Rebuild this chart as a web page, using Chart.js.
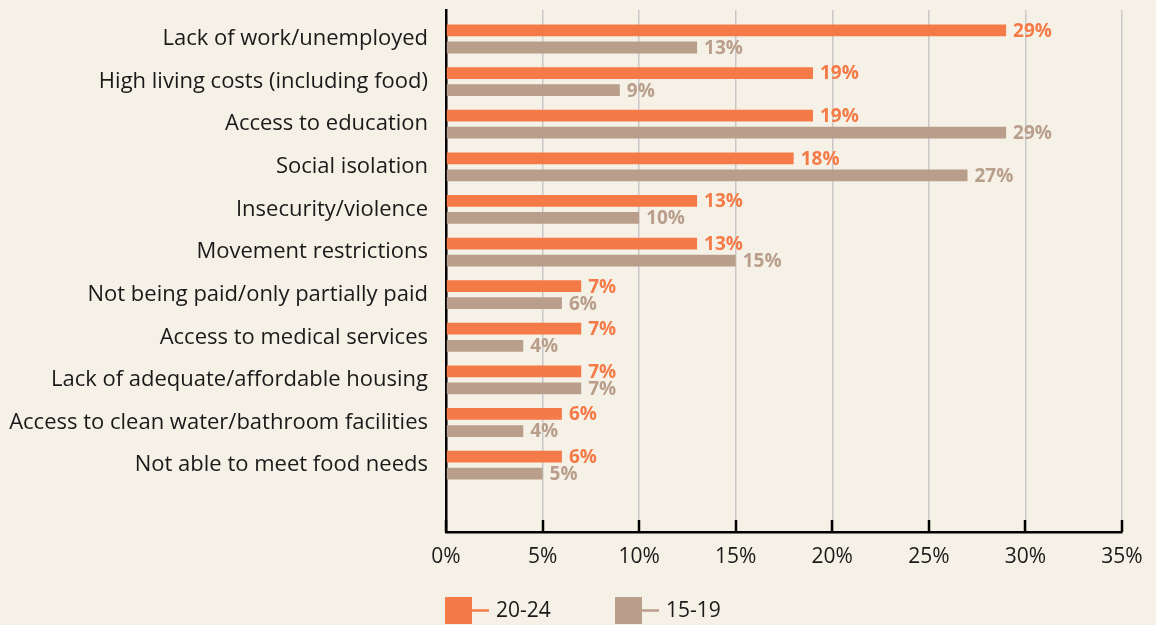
<!DOCTYPE html>
<html>
<head>
<meta charset="utf-8">
<script src="https://cdn.jsdelivr.net/npm/chart.js@4.4.1/dist/chart.umd.min.js"></script>
<style>
  html, body { margin: 0; padding: 0; background: #F6F1E6; }
  #wrap { width: 1156px; height: 625px; }
</style>
</head>
<body>
<div id="wrap"><canvas id="c" width="1156" height="625"></canvas></div>
<script>
const categories = [
  "Lack of work/unemployed",
  "High living costs (including food)",
  "Access to education",
  "Social isolation",
  "Insecurity/violence",
  "Movement restrictions",
  "Not being paid/only partially paid",
  "Access to medical services",
  "Lack of adequate/affordable housing",
  "Access to clean water/bathroom facilities",
  "Not able to meet food needs"
];
const seriesNames = ["20-24", "15-19"];
const values2024 = [29, 19, 19, 18, 13, 13, 7, 7, 7, 6, 6];
const values1519 = [13, 9, 29, 27, 10, 15, 6, 4, 7, 4, 5];
const xTicks = [0, 5, 10, 15, 20, 25, 30, 35];

const ORANGE = "#F47A48";
const TAUPE = "#B89E8B";
const FONT = "'Open Sans', 'Noto Sans', sans-serif";

const bgPlugin = {
  id: "bg",
  beforeDraw(chart) {
    const ctx = chart.ctx;
    ctx.save();
    ctx.fillStyle = "#F6F1E6";
    ctx.fillRect(0, 0, chart.width, chart.height);
    ctx.restore();
  }
};

const decoPlugin = {
  id: "deco",
  afterDatasetsDraw(chart) {
    const ctx = chart.ctx;
    chart.data.datasets.forEach((ds, di) => {
      const meta = chart.getDatasetMeta(di);
      meta.data.forEach((bar, i) => {
        ctx.save();
        ctx.font = "bold 19px " + FONT;
        ctx.fillStyle = ds.backgroundColor;
        ctx.textAlign = "left";
        ctx.textBaseline = "middle";
        ctx.fillText(ds.data[i].x + "%", bar.x + 7, bar.y + 1);
        ctx.restore();
      });
    });
  },
  afterDraw(chart) {
    const ctx = chart.ctx;
    const xs = chart.scales.x;
    const area = chart.chartArea;
    ctx.save();
    ctx.strokeStyle = "#000";
    ctx.lineWidth = 2.5;
    xTicks.forEach(v => {
      const px = Math.round(xs.getPixelForValue(v));
      ctx.beginPath();
      ctx.moveTo(px, area.bottom - 12);
      ctx.lineTo(px, area.bottom);
      ctx.stroke();
    });
    ctx.restore();
    const colors = [ORANGE, TAUPE];
    const startXs = [445, 615];
    ctx.save();
    seriesNames.forEach((name, i) => {
      const x0 = startXs[i];
      ctx.fillStyle = colors[i];
      ctx.fillRect(x0, 597, 27, 27);
      ctx.strokeStyle = colors[i];
      ctx.lineWidth = 2.5;
      ctx.beginPath();
      ctx.moveTo(x0 + 27, 610.5);
      ctx.lineTo(x0 + 44, 610.5);
      ctx.stroke();
      ctx.fillStyle = "#1a1a1a";
      ctx.font = "21px " + FONT;
      ctx.textBaseline = "middle";
      ctx.textAlign = "left";
      ctx.fillText(name, x0 + 51, 611);
    });
    ctx.restore();
  }
};

new Chart(document.getElementById("c"), {
  type: "bar",
  data: {
    datasets: [
      {
        label: seriesNames[0],
        data: values2024.map((v, i) => ({ x: v, y: i })),
        backgroundColor: ORANGE,
        categoryPercentage: 0.8,
        barPercentage: 0.69
      },
      {
        label: seriesNames[1],
        data: values1519.map((v, i) => ({ x: v, y: i })),
        backgroundColor: TAUPE,
        categoryPercentage: 0.8,
        barPercentage: 0.69
      }
    ]
  },
  options: {
    indexAxis: "y",
    responsive: false,
    animation: false,
    layout: { padding: { top: 10, left: 0, right: 34, bottom: 0 } },
    plugins: {
      legend: { display: false },
      tooltip: { enabled: false }
    },
    scales: {
      x: {
        type: "linear",
        position: "bottom",
        min: 0,
        max: 35,
        afterBuildTicks(s) { s.ticks = xTicks.map(v => ({ value: v })); },
        afterFit(s) { s.height = 93; s.paddingLeft = 0; s.paddingRight = 0; },
        grid: { color: "#C8C8C8", lineWidth: 1.5, drawTicks: false },
        border: { color: "#000", width: 2.5 },
        ticks: {
          padding: 12,
          color: "#1a1a1a",
          font: { family: FONT, size: 21 },
          callback: v => v + "%"
        }
      },
      y: {
        type: "linear",
        reverse: true,
        offset: false,
        min: -0.68,
        max: 11.57,
        afterBuildTicks(s) { s.ticks = categories.map((c, i) => ({ value: i })); },
        afterFit(s) { s.width = 446; s.paddingTop = 0; s.paddingBottom = 0; },
        grid: { display: false, offset: false },
        border: { color: "#000", width: 2.5 },
        ticks: {
          padding: 10,
          color: "#1a1a1a",
          font: { family: FONT, size: 22 },
          callback: v => categories[v]
        }
      }
    }
  },
  plugins: [bgPlugin, decoPlugin]
});
</script>
</body>
</html>
